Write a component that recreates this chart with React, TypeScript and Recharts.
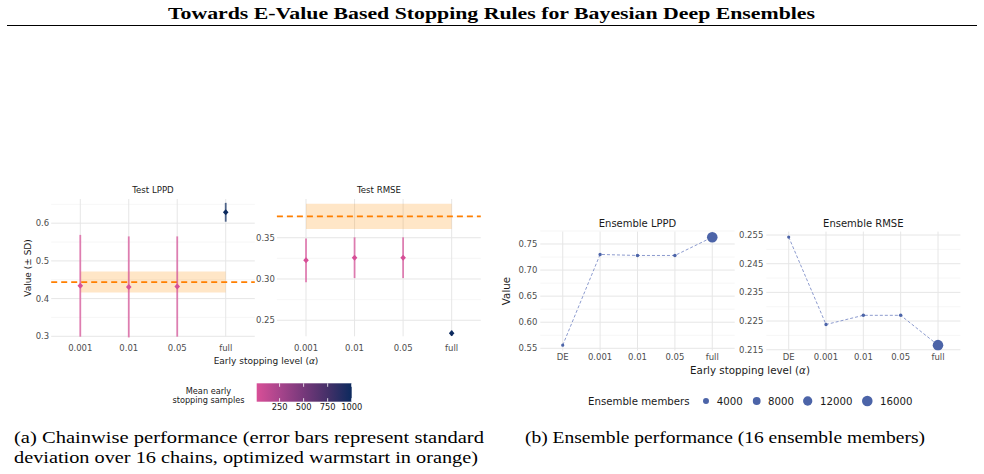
import React from 'react';
import {
  ScatterChart,
  Scatter,
  XAxis,
  YAxis,
  ZAxis,
  CartesianGrid,
  ErrorBar,
  ReferenceArea,
  ReferenceLine,
} from 'recharts';

// ---------- data ----------
const chainLevels = ['0.001', '0.01', '0.05', 'full'];
const meanEarlySamples = [12, 18, 22, 1000];
const testLppdMean = [0.434, 0.431, 0.432, 0.629];
const testLppdSd = [0.135, 0.134, 0.133, 0.025];
const testRmseMean = [0.3226, 0.3258, 0.3258, 0.2343];
const testRmseSd = [0.0265, 0.0247, 0.0247, 0.0032];
const warmLppdMean = 0.4438;
const warmLppdSd = 0.0278;
const warmRmseMean = 0.3758;
const warmRmseSd = 0.0152;

const ensembleLevels = ['DE', '0.001', '0.01', '0.05', 'full'];
const ensembleLppd = [0.556, 0.73, 0.728, 0.728, 0.763];
const ensembleRmse = [0.2543, 0.2238, 0.227, 0.227, 0.2166];
const ensembleMembers = [16, 192, 288, 352, 16000];

const memberLegendValues = [4000, 8000, 12000, 16000];
const colorbarTicks = [250, 500, 750, 1000];

const testLppdTicks = [0.3, 0.4, 0.5, 0.6];
const testLppdMinor = [0.35, 0.45, 0.55, 0.65];
const testRmseTicks = [0.25, 0.3, 0.35];
const testRmseMinor = [0.275, 0.325, 0.375];
const ensLppdTicks = [0.55, 0.6, 0.65, 0.7, 0.75];
const ensLppdMinor = [0.575, 0.625, 0.675, 0.725, 0.775];
const ensRmseTicks = [0.215, 0.225, 0.235, 0.245, 0.255];
const ensRmseMinor = [0.22, 0.23, 0.24, 0.25];

// ---------- styling helpers ----------
const SANS = "'DejaVu Sans', sans-serif";
const SERIF = "'Liberation Serif', 'DejaVu Serif', serif";
const gradientStops = ['#d84f97', '#a6448b', '#75387a', '#443068', '#0c2a5e'];
const sampleMin = Math.min(...meanEarlySamples);
const sampleMax = Math.max(...meanEarlySamples);

function hexToRgb(h: string) {
  const n = parseInt(h.slice(1), 16);
  return [(n >> 16) & 255, (n >> 8) & 255, n & 255];
}
function sampleColor(v: number) {
  const t = Math.max(0, Math.min(1, (v - sampleMin) / (sampleMax - sampleMin)));
  const seg = t * (gradientStops.length - 1);
  const i = Math.min(gradientStops.length - 2, Math.floor(seg));
  const f = seg - i;
  const a = hexToRgb(gradientStops[i]);
  const b = hexToRgb(gradientStops[i + 1]);
  const c = a.map((x, k) => Math.round(x + (b[k] - x) * f));
  return `rgb(${c[0]},${c[1]},${c[2]})`;
}

const Z_RANGE: [number, number] = [8, 88];
const Z_DOMAIN: [number, number] = [0, 16000];
function memberRadius(v: number) {
  const area = Z_RANGE[0] + ((v - Z_DOMAIN[0]) / (Z_DOMAIN[1] - Z_DOMAIN[0])) * (Z_RANGE[1] - Z_RANGE[0]);
  return Math.sqrt(area / Math.PI);
}

const tickStyle = { fontSize: 8.5, fill: '#4d4d4d', fontFamily: SANS };

type Box = { left: number; top: number; plotLeft: number; plotTop: number; plotRight: number; plotBottom: number };

function makeDiamond(color: string) {
  return (p: any) => {
    const cx = p.cx;
    const cy = p.cy;
    return (
      <polygon
        points={`${cx},${cy - 3} ${cx + 2.8},${cy} ${cx},${cy + 3} ${cx - 2.8},${cy}`}
        fill={color}
      />
    );
  };
}

function ChainPanel(props: {
  box: Box;
  means: number[];
  sds: number[];
  warmMean: number;
  warmSd: number;
  domain: [number, number];
  ticks: number[];
  minor: number[];
  digits: number;
}) {
  const { box, means, sds, warmMean, warmSd, domain, ticks, minor, digits } = props;
  const xh = 25;
  const mr = 4;
  const width = box.plotRight - box.left + mr;
  const height = box.plotBottom - box.top + xh;
  const yw = box.plotLeft - box.left;
  const xTicks = chainLevels.map((_, i) => i + 1);
  return (
    <div style={{ position: 'absolute', left: box.left, top: box.top }}>
      <ScatterChart
        width={width}
        height={height}
        margin={{ top: box.plotTop - box.top, right: mr, bottom: 0, left: 0 }}
      >
        <CartesianGrid horizontalValues={minor} vertical={false} stroke="#f2f2f2" strokeWidth={0.7} />
        <CartesianGrid horizontalValues={ticks} verticalValues={xTicks} stroke="#e6e6e6" strokeWidth={1} />
        <XAxis
          type="number"
          dataKey="x"
          domain={[0.4, chainLevels.length + 0.6]}
          allowDataOverflow
          ticks={xTicks}
          interval={0}
          tickFormatter={(v: number) => chainLevels[v - 1]}
          axisLine={false}
          tickLine={false}
          tickSize={0}
          tickMargin={9}
          height={xh}
          tick={tickStyle}
        />
        <YAxis
          type="number"
          dataKey="y"
          domain={domain}
          allowDataOverflow
          ticks={ticks}
          interval={0}
          tickFormatter={(v: number) => v.toFixed(digits)}
          axisLine={false}
          tickLine={false}
          tickSize={0}
          tickMargin={2}
          width={yw}
          tick={tickStyle}
        />
        <ReferenceArea
          x1={1}
          x2={chainLevels.length}
          y1={warmMean - warmSd}
          y2={warmMean + warmSd}
          fill="#ff8c00"
          fillOpacity={0.22}
          stroke="none"
        />
        <ReferenceLine y={warmMean} stroke="#ff7f00" strokeDasharray="6 4" strokeWidth={1.6} />
        {means.map((m, i) => {
          const c = sampleColor(meanEarlySamples[i]);
          return (
            <Scatter
              key={i}
              data={[{ x: i + 1, y: m, err: sds[i] }]}
              fill={c}
              shape={makeDiamond(c)}
              isAnimationActive={false}
            >
              <ErrorBar
                dataKey="err"
                direction="y"
                width={0}
                stroke={c}
                strokeOpacity={0.7}
                strokeWidth={1.8}
              />
            </Scatter>
          );
        })}
      </ScatterChart>
    </div>
  );
}

function EnsemblePanel(props: {
  box: Box;
  values: number[];
  domain: [number, number];
  ticks: number[];
  minor: number[];
  digits: number;
}) {
  const { box, values, domain, ticks, minor, digits } = props;
  const xh = 20;
  const mr = 4;
  const width = box.plotRight - box.left + mr;
  const height = box.plotBottom - box.top + xh;
  const yw = box.plotLeft - box.left;
  const xTicks = ensembleLevels.map((_, i) => i + 1);
  const rows = values.map((v, i) => ({ x: i + 1, y: v, z: ensembleMembers[i] }));
  return (
    <div style={{ position: 'absolute', left: box.left, top: box.top }}>
      <ScatterChart
        width={width}
        height={height}
        margin={{ top: box.plotTop - box.top, right: mr, bottom: 0, left: 0 }}
      >
        <CartesianGrid horizontalValues={minor} vertical={false} stroke="#f2f2f2" strokeWidth={0.7} />
        <CartesianGrid horizontalValues={ticks} verticalValues={xTicks} stroke="#e6e6e6" strokeWidth={1} />
        <XAxis
          type="number"
          dataKey="x"
          domain={[0.4, ensembleLevels.length + 0.6]}
          allowDataOverflow
          ticks={xTicks}
          interval={0}
          tickFormatter={(v: number) => ensembleLevels[v - 1]}
          axisLine={false}
          tickLine={false}
          tickSize={0}
          tickMargin={3}
          height={xh}
          tick={tickStyle}
        />
        <YAxis
          type="number"
          dataKey="y"
          domain={domain}
          allowDataOverflow
          ticks={ticks}
          interval={0}
          tickFormatter={(v: number) => v.toFixed(digits)}
          axisLine={false}
          tickLine={false}
          tickSize={0}
          tickMargin={3}
          width={yw}
          tick={tickStyle}
        />
        <ZAxis type="number" dataKey="z" domain={Z_DOMAIN} range={Z_RANGE} />
        <Scatter
          data={rows}
          fill="#4c64a8"
          line={{ stroke: '#7f8ec8', strokeWidth: 0.9, strokeDasharray: '3 2' }}
          lineType="joint"
          isAnimationActive={false}
        />
      </ScatterChart>
    </div>
  );
}

export default function App() {
  const cbX0 = 256.7;
  const cbW = 95;
  const cbY = 383.3;
  const cbH = 18.4;
  const cbPos = (v: number) => cbX0 + ((v - sampleMin) / (sampleMax - sampleMin)) * cbW;
  const legendCircleX = [706, 756.7, 807.7, 867.3];
  const legendLabelX = [716.7, 768, 820, 880];

  return (
    <div
      style={{
        position: 'absolute',
        left: 0,
        top: 0,
        width: 984,
        height: 474,
        background: '#ffffff',
        overflow: 'hidden',
      }}
    >
      <svg width={984} height={474} style={{ position: 'absolute', left: 0, top: 0 }}>
        <defs>
          <linearGradient id="cbGrad" x1="0" x2="1" y1="0" y2="0">
            {gradientStops.map((c, i) => (
              <stop key={i} offset={i / (gradientStops.length - 1)} stopColor={c} />
            ))}
          </linearGradient>
        </defs>
        {/* header */}
        <text
          x={168}
          y={19}
          fontFamily={SERIF}
          fontWeight="bold"
          fontSize={16}
          textLength={647}
          lengthAdjust="spacingAndGlyphs"
          fill="#000"
        >
          Towards E-Value Based Stopping Rules for Bayesian Deep Ensembles
        </text>
        <line x1={7} x2={977} y1={25.5} y2={25.5} stroke="#000" strokeWidth={1} />

        {/* panel titles */}
        <text x={153} y={193} textAnchor="middle" fontFamily={SANS} fontSize={8.6} fill="#1a1a1a">
          Test LPPD
        </text>
        <text x={379} y={193} textAnchor="middle" fontFamily={SANS} fontSize={8.6} fill="#1a1a1a">
          Test RMSE
        </text>
        <text x={637.5} y={226.8} textAnchor="middle" fontFamily={SANS} fontSize={10} fill="#1a1a1a">
          Ensemble LPPD
        </text>
        <text x={863.3} y={226.8} textAnchor="middle" fontFamily={SANS} fontSize={10} fill="#1a1a1a">
          Ensemble RMSE
        </text>

        {/* axis titles */}
        <text x={266} y={364.3} textAnchor="middle" fontFamily={SANS} fontSize={9} fill="#1a1a1a">
          Early stopping level (<tspan fontStyle="italic">α</tspan>)
        </text>
        <text x={750} y={374.4} textAnchor="middle" fontFamily={SANS} fontSize={10.3} fill="#1a1a1a">
          Early stopping level (<tspan fontStyle="italic">α</tspan>)
        </text>
        <text
          transform="translate(31.2,268) rotate(-90)"
          textAnchor="middle"
          fontFamily={SANS}
          fontSize={9}
          fill="#1a1a1a"
        >
          Value (± SD)
        </text>
        <text
          transform="translate(510.4,291) rotate(-90)"
          textAnchor="middle"
          fontFamily={SANS}
          fontSize={10.3}
          fill="#1a1a1a"
        >
          Value
        </text>

        {/* colour bar legend */}
        <text x={208.5} y={394.3} textAnchor="middle" fontFamily={SANS} fontSize={8.2} fill="#1a1a1a">
          Mean early
        </text>
        <text x={208.5} y={403} textAnchor="middle" fontFamily={SANS} fontSize={8.2} fill="#1a1a1a">
          stopping samples
        </text>
        <rect x={cbX0} y={cbY} width={cbW} height={cbH} fill="url(#cbGrad)" />
        {colorbarTicks.map((t) => (
          <g key={t}>
            <line x1={cbPos(t)} x2={cbPos(t)} y1={cbY} y2={cbY + 3.5} stroke="#fff" strokeWidth={0.8} />
            <line x1={cbPos(t)} x2={cbPos(t)} y1={cbY + cbH - 3.5} y2={cbY + cbH} stroke="#fff" strokeWidth={0.8} />
            <text x={cbPos(t)} y={409.8} textAnchor="middle" fontFamily={SANS} fontSize={8.3} fill="#1a1a1a">
              {t}
            </text>
          </g>
        ))}

        {/* ensemble size legend */}
        <text x={588} y={404.6} fontFamily={SANS} fontSize={10.2} fill="#1a1a1a">
          Ensemble members
        </text>
        {memberLegendValues.map((v, i) => (
          <g key={v}>
            <circle cx={legendCircleX[i]} cy={401} r={memberRadius(v)} fill="#4c64a8" />
            <text x={legendLabelX[i]} y={404.6} fontFamily={SANS} fontSize={10.2} fill="#1a1a1a">
              {v}
            </text>
          </g>
        ))}

        {/* captions */}
        <text x={14} y={443} fontFamily={SERIF} fontSize={17} textLength={470} lengthAdjust="spacingAndGlyphs" fill="#000">
          (a) Chainwise performance (error bars represent standard
        </text>
        <text x={14} y={463} fontFamily={SERIF} fontSize={17} textLength={464} lengthAdjust="spacingAndGlyphs" fill="#000">
          deviation over 16 chains, optimized warmstart in orange)
        </text>
        <text x={525} y={443} fontFamily={SERIF} fontSize={17} textLength={400} lengthAdjust="spacingAndGlyphs" fill="#000">
          (b) Ensemble performance (16 ensemble members)
        </text>
      </svg>

      <ChainPanel
        box={{ left: 10, top: 190, plotLeft: 51.2, plotTop: 199, plotRight: 254.8, plotBottom: 336.3 }}
        means={testLppdMean}
        sds={testLppdSd}
        warmMean={warmLppdMean}
        warmSd={warmLppdSd}
        domain={[0.3, 0.6642]}
        ticks={testLppdTicks}
        minor={testLppdMinor}
        digits={1}
      />
      <ChainPanel
        box={{ left: 236, top: 190, plotLeft: 276.9, plotTop: 199, plotRight: 480.8, plotBottom: 336.3 }}
        means={testRmseMean}
        sds={testRmseSd}
        warmMean={warmRmseMean}
        warmSd={warmRmseSd}
        domain={[0.2306, 0.3969]}
        ticks={testRmseTicks}
        minor={testRmseMinor}
        digits={2}
      />
      <EnsemblePanel
        box={{ left: 500, top: 222, plotLeft: 540.3, plotTop: 231.6, plotRight: 734.7, plotBottom: 350.6 }}
        values={ensembleLppd}
        domain={[0.5456, 0.7738]}
        ticks={ensLppdTicks}
        minor={ensLppdMinor}
        digits={2}
      />
      <EnsemblePanel
        box={{ left: 726, top: 222, plotLeft: 766.3, plotTop: 231.6, plotRight: 960.4, plotBottom: 350.6 }}
        values={ensembleRmse}
        domain={[0.2147, 0.2562]}
        ticks={ensRmseTicks}
        minor={ensRmseMinor}
        digits={3}
      />
    </div>
  );
}
